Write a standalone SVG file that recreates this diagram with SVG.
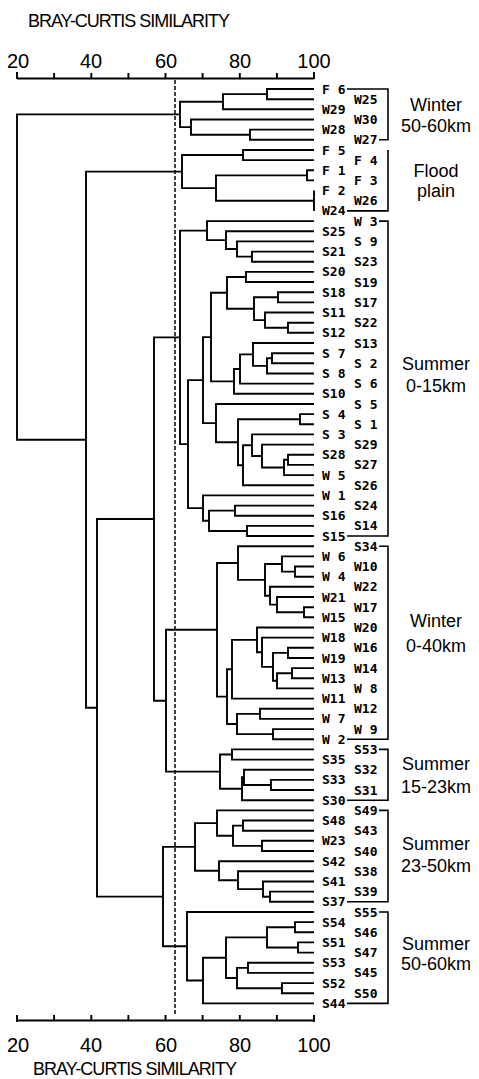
<svg xmlns="http://www.w3.org/2000/svg" width="479" height="1079" viewBox="0 0 479 1079">
<style>
.ax{stroke:#000;stroke-width:1.9;fill:none}
.tk{font-family:"Liberation Sans",Arial,sans-serif;font-size:20px;text-anchor:middle;fill:#000}
.ti{font-family:"Liberation Sans",Arial,sans-serif;font-size:18px;fill:#000}
.dn path{stroke:#000;stroke-width:1.9;fill:none}
.lf text{font-family:"DejaVu Sans Mono",monospace;font-size:13px;font-weight:bold;dominant-baseline:central;fill:#000}
.gr path{stroke:#000;stroke-width:1.6;fill:none}
.gl{font-family:"Liberation Sans",Arial,sans-serif;font-size:18px;text-anchor:middle;fill:#000}
.dash{stroke:#000;stroke-width:1.5;stroke-dasharray:4 2;fill:none}
</style>
<rect width="479" height="1079" fill="#fff"/>
<g id="axis-top">
<text class="ti" x="28" y="27" textLength="202">BRAY-CURTIS SIMILARITY</text>
<text class="tk" x="18" y="68">20</text><text class="tk" x="91" y="68">40</text><text class="tk" x="166" y="68">60</text><text class="tk" x="240" y="68">80</text><text class="tk" x="314" y="68">100</text>
<path class="ax" d="M17,78.5H314M17,72V79M54.1,73V79M91.3,73V79M128.4,73V79M165.5,73V79M202.6,73V79M239.8,73V79M276.9,73V79M314,72V79"/>
</g>
<g id="axis-bottom">
<path class="ax" d="M17,1020.5H314M17,1015V1022M54.1,1015V1021M91.3,1015V1021M128.4,1015V1021M165.5,1015V1021M202.6,1015V1021M239.8,1015V1021M276.9,1015V1021M314,1015V1022"/>
<text class="tk" x="18" y="1052">20</text><text class="tk" x="91" y="1052">40</text><text class="tk" x="166" y="1052">60</text><text class="tk" x="240" y="1052">80</text><text class="tk" x="314" y="1052">100</text>
<text class="ti" x="33" y="1075" textLength="204">BRAY-CURTIS SIMILARITY</text>
</g>
<path id="cutoff" class="dash" d="M175,80V1014"/>
<g id="connectors" class="dn">
<path d="M314,89H267V99.2H314"/>
<path d="M267,94.1H223V109.3H314"/>
<path d="M314,129.6H250V139.8H314"/>
<path d="M314,119.5H191V134.7H250"/>
<path d="M223,101.7H180V127.1H191"/>
<path d="M314,150H243V160.1H314"/>
<path d="M314,170.3H307V180.4H314"/>
<path d="M314,190.6V210.9"/>
<path d="M307,175.4H216V200.8H314"/>
<path d="M243,155H182V188.1H216"/>
<path d="M180,114.4H17V439.7H86"/>
<path d="M182,171.6H86V707.8H97"/>
<path d="M154,519H97V896.6H163"/>
<path d="M180,337.4H154V700.7H166"/>
<path d="M207,230.6H180V444.1H188"/>
<path d="M314,251.6H252V261.7H314"/>
<path d="M314,241.4H237V256.6H252"/>
<path d="M314,231.2H226V249H237"/>
<path d="M314,221.1H207V240.1H226"/>
<path d="M314,271.9H246V282H314"/>
<path d="M314,292.2H278V302.4H314"/>
<path d="M314,322.7H288V332.8H314"/>
<path d="M314,312.5H265V327.8H288"/>
<path d="M278,297.3H254V320.1H265"/>
<path d="M246,277H227V308.7H254"/>
<path d="M314,353.2H272V363.3H314"/>
<path d="M272,358.3H267V373.5H314"/>
<path d="M314,343H253V365.9H267"/>
<path d="M253,354.4H240V383.6H314"/>
<path d="M240,369H234V393.8H314"/>
<path d="M227,292.8H211V381.4H234"/>
<path d="M314,414.1H300V424.3H314"/>
<path d="M314,454.8H288V464.9H314"/>
<path d="M288,459.8H284V475.1H314"/>
<path d="M314,444.6H262V467.5H284"/>
<path d="M314,434.4H252V456H262"/>
<path d="M252,445.2H243V485.2H314"/>
<path d="M300,419.2H238V465.2H243"/>
<path d="M314,404H216V442.2H238"/>
<path d="M211,337.1H203V423.1H216"/>
<path d="M314,505.6H235V515.7H314"/>
<path d="M314,525.9H247V536H314"/>
<path d="M235,510.6H209V531H247"/>
<path d="M314,495.4H203V520.8H209"/>
<path d="M203,380.1H188V508.1H203"/>
<path d="M314,566.5H295V576.7H314"/>
<path d="M314,556.4H282V571.6H295"/>
<path d="M314,607.2H304V617.3H314"/>
<path d="M314,597H277V612.3H304"/>
<path d="M314,586.8H270V604.6H277"/>
<path d="M282,564H265V595.7H270"/>
<path d="M314,546.2H238V579.9H265"/>
<path d="M314,647.8H288V658H314"/>
<path d="M314,668.1H292V678.3H314"/>
<path d="M292,673.2H277V688.4H314"/>
<path d="M288,652.9H273V680.8H277"/>
<path d="M314,637.6H262V666.9H273"/>
<path d="M314,627.5H257V652.2H262"/>
<path d="M257,639.9H232V698.6H314"/>
<path d="M314,708.8H260V718.9H314"/>
<path d="M314,729.1H273V739.2H314"/>
<path d="M260,713.9H237V734.1H273"/>
<path d="M232,669.2H227V724H237"/>
<path d="M238,563H217V696.6H227"/>
<path d="M314,749.4H232V759.6H314"/>
<path d="M314,779.9H271V790H314"/>
<path d="M314,769.7H244V785H271"/>
<path d="M244,777.3H242V800.2H314"/>
<path d="M232,754.5H220V788.8H242"/>
<path d="M217,629.8H166V771.6H220"/>
<path d="M314,820.5H243V830.7H314"/>
<path d="M314,840.8H262V851H314"/>
<path d="M243,825.6H233V845.9H262"/>
<path d="M314,810.4H217V835.8H233"/>
<path d="M314,891.6H270V901.8H314"/>
<path d="M314,881.5H263V896.7H270"/>
<path d="M314,871.3H238V889.1H263"/>
<path d="M314,861.2H219V880.2H238"/>
<path d="M217,823.1H195V870.7H219"/>
<path d="M314,922.1H295V932.3H314"/>
<path d="M314,942.4H298V952.6H314"/>
<path d="M295,927.2H267V947.5H298"/>
<path d="M314,962.8H248V972.9H314"/>
<path d="M314,983.1H282V993.2H314"/>
<path d="M248,967.9H237V988.2H282"/>
<path d="M267,937.4H226V978H237"/>
<path d="M226,957.7H203V1003.4H314"/>
<path d="M314,912H187V980.5H203"/>
<path d="M195,846.9H163V946.3H187"/>
</g>
<g id="leaves" class="lf">
<g id="leaf-0"><text x="322" y="89">F 6</text></g>
<g id="leaf-1"><text x="354" y="99.2">W25</text></g>
<g id="leaf-2"><text x="322" y="109.3">W29</text></g>
<g id="leaf-3"><text x="354" y="119.5">W30</text></g>
<g id="leaf-4"><text x="322" y="129.6">W28</text></g>
<g id="leaf-5"><text x="354" y="139.8">W27</text></g>
<g id="leaf-6"><text x="322" y="150">F 5</text></g>
<g id="leaf-7"><text x="354" y="160.1">F 4</text></g>
<g id="leaf-8"><text x="322" y="170.3">F 1</text></g>
<g id="leaf-9"><text x="354" y="180.4">F 3</text></g>
<g id="leaf-10"><text x="322" y="190.6">F 2</text></g>
<g id="leaf-11"><text x="354" y="200.8">W26</text></g>
<g id="leaf-12"><text x="322" y="210.9">W24</text></g>
<g id="leaf-13"><text x="354" y="221.1">W 3</text></g>
<g id="leaf-14"><text x="322" y="231.2">S25</text></g>
<g id="leaf-15"><text x="354" y="241.4">S 9</text></g>
<g id="leaf-16"><text x="322" y="251.6">S21</text></g>
<g id="leaf-17"><text x="354" y="261.7">S23</text></g>
<g id="leaf-18"><text x="322" y="271.9">S20</text></g>
<g id="leaf-19"><text x="354" y="282">S19</text></g>
<g id="leaf-20"><text x="322" y="292.2">S18</text></g>
<g id="leaf-21"><text x="354" y="302.4">S17</text></g>
<g id="leaf-22"><text x="322" y="312.5">S11</text></g>
<g id="leaf-23"><text x="354" y="322.7">S22</text></g>
<g id="leaf-24"><text x="322" y="332.8">S12</text></g>
<g id="leaf-25"><text x="354" y="343">S13</text></g>
<g id="leaf-26"><text x="322" y="353.2">S 7</text></g>
<g id="leaf-27"><text x="354" y="363.3">S 2</text></g>
<g id="leaf-28"><text x="322" y="373.5">S 8</text></g>
<g id="leaf-29"><text x="354" y="383.6">S 6</text></g>
<g id="leaf-30"><text x="322" y="393.8">S10</text></g>
<g id="leaf-31"><text x="354" y="404">S 5</text></g>
<g id="leaf-32"><text x="322" y="414.1">S 4</text></g>
<g id="leaf-33"><text x="354" y="424.3">S 1</text></g>
<g id="leaf-34"><text x="322" y="434.4">S 3</text></g>
<g id="leaf-35"><text x="354" y="444.6">S29</text></g>
<g id="leaf-36"><text x="322" y="454.8">S28</text></g>
<g id="leaf-37"><text x="354" y="464.9">S27</text></g>
<g id="leaf-38"><text x="322" y="475.1">W 5</text></g>
<g id="leaf-39"><text x="354" y="485.2">S26</text></g>
<g id="leaf-40"><text x="322" y="495.4">W 1</text></g>
<g id="leaf-41"><text x="354" y="505.6">S24</text></g>
<g id="leaf-42"><text x="322" y="515.7">S16</text></g>
<g id="leaf-43"><text x="354" y="525.9">S14</text></g>
<g id="leaf-44"><text x="322" y="536">S15</text></g>
<g id="leaf-45"><text x="354" y="546.2">S34</text></g>
<g id="leaf-46"><text x="322" y="556.4">W 6</text></g>
<g id="leaf-47"><text x="354" y="566.5">W10</text></g>
<g id="leaf-48"><text x="322" y="576.7">W 4</text></g>
<g id="leaf-49"><text x="354" y="586.8">W22</text></g>
<g id="leaf-50"><text x="322" y="597">W21</text></g>
<g id="leaf-51"><text x="354" y="607.2">W17</text></g>
<g id="leaf-52"><text x="322" y="617.3">W15</text></g>
<g id="leaf-53"><text x="354" y="627.5">W20</text></g>
<g id="leaf-54"><text x="322" y="637.6">W18</text></g>
<g id="leaf-55"><text x="354" y="647.8">W16</text></g>
<g id="leaf-56"><text x="322" y="658">W19</text></g>
<g id="leaf-57"><text x="354" y="668.1">W14</text></g>
<g id="leaf-58"><text x="322" y="678.3">W13</text></g>
<g id="leaf-59"><text x="354" y="688.4">W 8</text></g>
<g id="leaf-60"><text x="322" y="698.6">W11</text></g>
<g id="leaf-61"><text x="354" y="708.8">W12</text></g>
<g id="leaf-62"><text x="322" y="718.9">W 7</text></g>
<g id="leaf-63"><text x="354" y="729.1">W 9</text></g>
<g id="leaf-64"><text x="322" y="739.2">W 2</text></g>
<g id="leaf-65"><text x="354" y="749.4">S53</text></g>
<g id="leaf-66"><text x="322" y="759.6">S35</text></g>
<g id="leaf-67"><text x="354" y="769.7">S32</text></g>
<g id="leaf-68"><text x="322" y="779.9">S33</text></g>
<g id="leaf-69"><text x="354" y="790">S31</text></g>
<g id="leaf-70"><text x="322" y="800.2">S30</text></g>
<g id="leaf-71"><text x="354" y="810.4">S49</text></g>
<g id="leaf-72"><text x="322" y="820.5">S48</text></g>
<g id="leaf-73"><text x="354" y="830.7">S43</text></g>
<g id="leaf-74"><text x="322" y="840.8">W23</text></g>
<g id="leaf-75"><text x="354" y="851">S40</text></g>
<g id="leaf-76"><text x="322" y="861.2">S42</text></g>
<g id="leaf-77"><text x="354" y="871.3">S38</text></g>
<g id="leaf-78"><text x="322" y="881.5">S41</text></g>
<g id="leaf-79"><text x="354" y="891.6">S39</text></g>
<g id="leaf-80"><text x="322" y="901.8">S37</text></g>
<g id="leaf-81"><text x="354" y="912">S55</text></g>
<g id="leaf-82"><text x="322" y="922.1">S54</text></g>
<g id="leaf-83"><text x="354" y="932.3">S46</text></g>
<g id="leaf-84"><text x="322" y="942.4">S51</text></g>
<g id="leaf-85"><text x="354" y="952.6">S47</text></g>
<g id="leaf-86"><text x="322" y="962.8">S53</text></g>
<g id="leaf-87"><text x="354" y="972.9">S45</text></g>
<g id="leaf-88"><text x="322" y="983.1">S52</text></g>
<g id="leaf-89"><text x="354" y="993.2">S50</text></g>
<g id="leaf-90"><text x="322" y="1003.4">S44</text></g>
</g>
<g id="group-winter-50-60" class="gr">
<path d="M347,89H388V139.8H379"/>
<text class="gl" x="436" y="111">Winter</text><text class="gl" x="436" y="132">50-60km</text>
</g>
<g id="group-flood-plain" class="gr">
<path d="M388,150V210.9H347"/>
<text class="gl" x="436" y="177">Flood</text><text class="gl" x="436" y="197">plain</text>
</g>
<g id="group-summer-0-15" class="gr">
<path d="M379,221.1H388V536H347"/>
<text class="gl" x="436" y="370">Summer</text><text class="gl" x="436" y="392">0-15km</text>
</g>
<g id="group-winter-0-40" class="gr">
<path d="M379,546.2H388V739.2H347"/>
<text class="gl" x="436" y="627">Winter</text><text class="gl" x="436" y="652">0-40km</text>
</g>
<g id="group-summer-15-23" class="gr">
<path d="M379,749.4H388V800.2H347"/>
<text class="gl" x="436" y="770">Summer</text><text class="gl" x="436" y="793">15-23km</text>
</g>
<g id="group-summer-23-50" class="gr">
<path d="M379,810.4H388V901.8H347"/>
<text class="gl" x="436" y="850">Summer</text><text class="gl" x="436" y="872">23-50km</text>
</g>
<g id="group-summer-50-60" class="gr">
<path d="M379,912H388V1003.4H347"/>
<text class="gl" x="436" y="950">Summer</text><text class="gl" x="436" y="970">50-60km</text>
</g>
</svg>
